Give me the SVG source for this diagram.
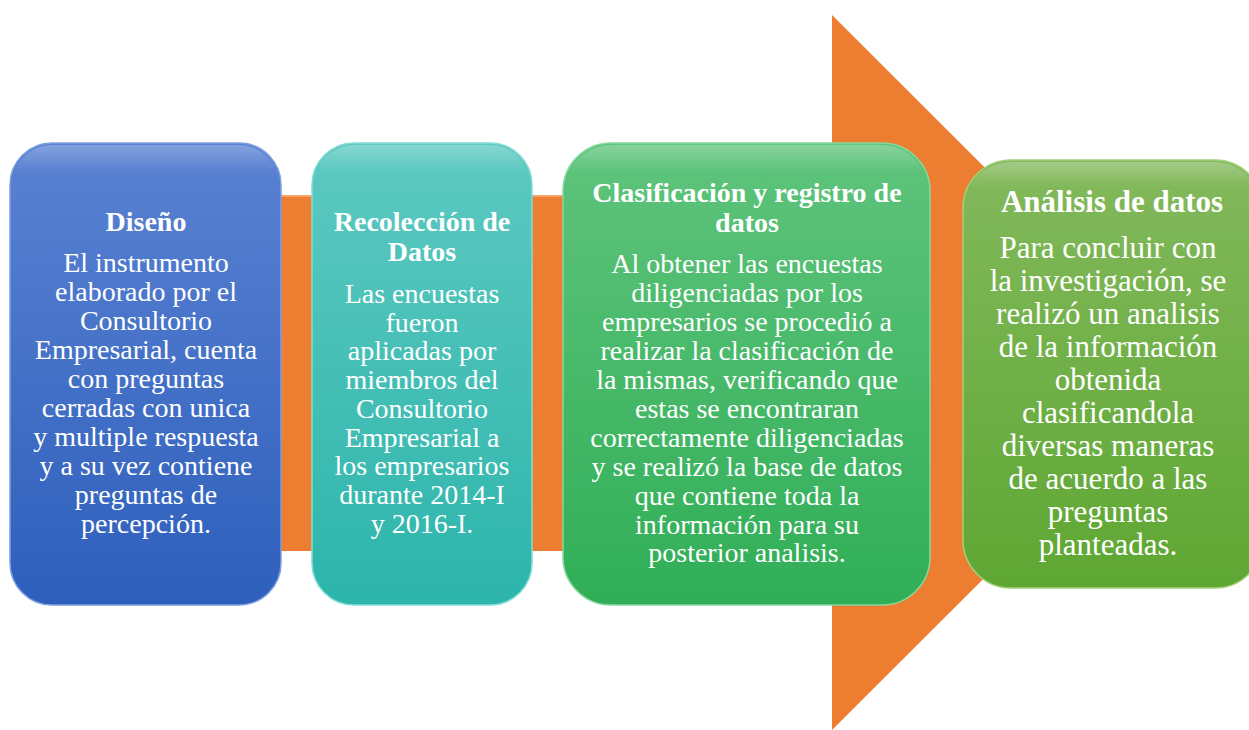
<svg xmlns="http://www.w3.org/2000/svg" width="1249" height="730" viewBox="0 0 1249 730">
<defs>
<linearGradient id="gBlue" x1="0" y1="0" x2="0" y2="1"><stop offset="0" stop-color="#5a82d2"/><stop offset="1" stop-color="#2e5fbc"/></linearGradient>
<linearGradient id="gTeal" x1="0" y1="0" x2="0" y2="1"><stop offset="0" stop-color="#5dc9c1"/><stop offset="1" stop-color="#2db5ab"/></linearGradient>
<linearGradient id="gGreen" x1="0" y1="0" x2="0" y2="1"><stop offset="0" stop-color="#5fc47c"/><stop offset="1" stop-color="#30ae57"/></linearGradient>
<linearGradient id="gLime" x1="0" y1="0" x2="0" y2="1"><stop offset="0" stop-color="#83b95c"/><stop offset="1" stop-color="#5ea733"/></linearGradient>
<linearGradient id="gShine" x1="0" y1="0" x2="0" y2="1"><stop offset="0" stop-color="#ffffff" stop-opacity="0.25"/><stop offset="0.06" stop-color="#ffffff" stop-opacity="0"/></linearGradient>
</defs>
<style>
.box{stroke-width:1.5}
.shine{fill:url(#gShine);stroke:none}
.t{font-family:"Liberation Serif","Times New Roman",serif;fill:#ffffff;text-anchor:middle;font-size:28px}
.b{font-weight:bold}
.big{font-size:31px}
</style>
<g id="arrow">
<polygon points="100,195 832,195 832,15 1190,372.5 832,730 832,551 100,551" fill="#ed7d31"/>
<line x1="280" y1="196" x2="832" y2="196" stroke="#f4a46a" stroke-width="2"/>
</g>
<g id="connectors"></g>
<g id="node-diseno">
<rect class="box" x="10" y="143" width="271" height="462" rx="42" fill="url(#gBlue)" stroke="#7d9fe0"/>
<rect class="shine" x="12" y="145" width="267" height="458" rx="40"/>
<text class="t b" x="146" y="231">Diseño</text>
<text class="t" x="146" y="272">El instrumento</text>
<text class="t" x="146" y="301">elaborado por el</text>
<text class="t" x="146" y="330">Consultorio</text>
<text class="t" x="146" y="359">Empresarial, cuenta</text>
<text class="t" x="146" y="388">con preguntas</text>
<text class="t" x="146" y="417">cerradas con unica</text>
<text class="t" x="146" y="446">y multiple respuesta</text>
<text class="t" x="146" y="475">y a su vez contiene</text>
<text class="t" x="146" y="504">preguntas de</text>
<text class="t" x="146" y="533">percepción.</text>
</g>
<g id="node-recoleccion">
<rect class="box" x="312" y="143" width="220" height="462" rx="42" fill="url(#gTeal)" stroke="#84ddd6"/>
<rect class="shine" x="314" y="145" width="216" height="458" rx="40"/>
<text class="t b" x="422" y="231">Recolección de</text>
<text class="t b" x="422" y="261">Datos</text>
<text class="t" x="422" y="303">Las encuestas</text>
<text class="t" x="422" y="332">fueron</text>
<text class="t" x="422" y="360">aplicadas por</text>
<text class="t" x="422" y="389">miembros del</text>
<text class="t" x="422" y="418">Consultorio</text>
<text class="t" x="422" y="447">Empresarial a</text>
<text class="t" x="422" y="475">los empresarios</text>
<text class="t" x="422" y="504">durante 2014-I</text>
<text class="t" x="422" y="533">y 2016-I.</text>
</g>
<g id="node-clasificacion">
<rect class="box" x="563" y="143" width="367" height="462" rx="48" fill="url(#gGreen)" stroke="#86d99c"/>
<rect class="shine" x="565" y="145" width="363" height="458" rx="46"/>
<text class="t b" x="747" y="202">Clasificación y registro de</text>
<text class="t b" x="747" y="232">datos</text>
<text class="t" x="747" y="273">Al obtener las encuestas</text>
<text class="t" x="747" y="302">diligenciadas por los</text>
<text class="t" x="747" y="331">empresarios se procedió a</text>
<text class="t" x="747" y="360">realizar la clasificación de</text>
<text class="t" x="747" y="389">la mismas, verificando que</text>
<text class="t" x="747" y="418">estas se encontraran</text>
<text class="t" x="747" y="447">correctamente diligenciadas</text>
<text class="t" x="747" y="476">y se realizó la base de datos</text>
<text class="t" x="747" y="505">que contiene toda la</text>
<text class="t" x="747" y="534">información para su</text>
<text class="t" x="747" y="562">posterior analisis.</text>
</g>
<g id="node-analisis">
<rect class="box" x="963" y="160" width="300" height="428" rx="48" fill="url(#gLime)" stroke="#a2d17c"/>
<rect class="shine" x="965" y="162" width="296" height="424" rx="46"/>
<text class="t b big" x="1112" y="212">Análisis de datos</text>
<text class="t big" x="1108" y="258">Para concluir con</text>
<text class="t big" x="1108" y="291">la investigación, se</text>
<text class="t big" x="1108" y="324">realizó un analisis</text>
<text class="t big" x="1108" y="357">de la información</text>
<text class="t big" x="1108" y="390">obtenida</text>
<text class="t big" x="1108" y="423">clasificandola</text>
<text class="t big" x="1108" y="456">diversas maneras</text>
<text class="t big" x="1108" y="489">de acuerdo a las</text>
<text class="t big" x="1108" y="522">preguntas</text>
<text class="t big" x="1108" y="555">planteadas.</text>
</g>
</svg>
